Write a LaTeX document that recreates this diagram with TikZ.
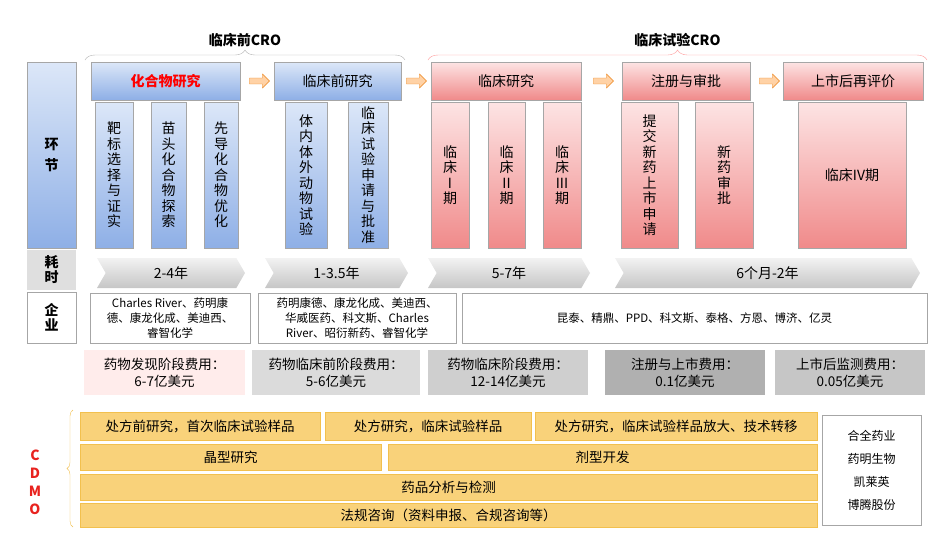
\documentclass[tikz,border=0pt]{standalone}
\usepackage{fontspec}
\setmainfont{Noto Sans CJK SC}
\usepackage{tikz}
\usetikzlibrary{shapes.symbols}
\usetikzlibrary{shapes.arrows}
\usetikzlibrary{decorations.pathreplacing}
\usetikzlibrary{positioning}

\definecolor{bluetop}{HTML}{DCE7F8}
\definecolor{bluebot}{HTML}{8EAFE6}
\definecolor{pinktop}{HTML}{FDE4E4}
\definecolor{pinkbot}{HTML}{F08A8A}
\definecolor{goldbox}{HTML}{F9D27A}
\definecolor{goldline}{HTML}{F2C04E}
\definecolor{cdmored}{HTML}{E8231F}

\begin{document}
\begin{tikzpicture}[x=1pt, y=-1pt,
    bluebox/.style={draw=gray!70, top color=bluetop, bottom color=bluebot,
        inner sep=0pt, font=\fontsize{14}{15.5}\selectfont, align=center},
    pinkbox/.style={draw=gray!70, top color=pinktop, bottom color=pinkbot,
        inner sep=0pt, font=\fontsize{14}{15.5}\selectfont, align=center},
    chev/.style={signal, signal to=east, signal from=west, signal pointer angle=120,
        top color=gray!10, bottom color=gray!45, inner sep=0pt, minimum height=30pt,
        font=\fontsize{14}{16}\selectfont},
    firmbox/.style={draw=gray!70, fill=white, inner sep=0pt, minimum height=50pt,
        align=center, font=\fontsize{11.5}{15}\selectfont},
    costbox/.style={inner sep=0pt, minimum height=45pt, align=center,
        font=\fontsize{13.5}{17}\selectfont},
    goldbar/.style={draw=goldline, fill=goldbox, inner sep=0pt,
        font=\fontsize{13.5}{15}\selectfont},
    step arrow/.style={single arrow, fill=orange!35, draw=orange!70!brown,
        minimum height=20pt, minimum width=14pt, single arrow head extend=3pt,
        inner sep=2pt}]

\useasboundingbox (0,0) rectangle (943,542);

% left column
\node[bluebox, minimum width=49pt, minimum height=186pt] (hj) at (51.5,155)
    {\textbf{环}\\[6pt]\textbf{节}};
\node[inner sep=0pt, minimum width=49pt, minimum height=40pt, fill=gray!25,
    font=\fontsize{14}{15}\selectfont\bfseries, align=center] (hs) at (51.5,270) {耗\\时};
\node[draw=gray!70, inner sep=0pt, minimum width=49pt, minimum height=51pt,
    font=\fontsize{14}{15}\selectfont\bfseries, align=center] (qy) at (51.5,317.5) {企\\业};

% stage heads
\node[bluebox, minimum width=149pt, minimum height=38pt, text=red,
    font=\fontsize{14}{16}\selectfont\bfseries] (cmpd) at (165.5,81) {化合物研究};
\node[bluebox, minimum width=127pt, minimum height=38pt] (pre) at (337.5,81) {临床前研究};
\node[pinkbox, minimum width=150pt, minimum height=38pt] (clin) at (506,81) {临床研究};
\node[pinkbox, minimum width=128pt, minimum height=38pt] (reg) at (686,81) {注册与审批};
\node[pinkbox, minimum width=140pt, minimum height=38pt] (post) at (853,81) {上市后再评价};

\node[step arrow] (a1) at (258,81) {};
\node[step arrow] (a2) at (415,81) {};
\node[step arrow] (a3) at (602,81) {};
\node[step arrow] (a4) at (768,81) {};

% sub steps
\foreach \cx/\w/\txt [count=\i] in {
    114/38/{靶\\标\\选\\择\\与\\证\\实},
    168.5/35/{苗\\头\\化\\合\\物\\探\\索},
    221/34/{先\\导\\化\\合\\物\\优\\化},
    306/42/{体\\内\\体\\外\\动\\物\\试\\验},
    368/40/{临\\床\\试\\验\\申\\请\\与\\批\\准}} {
    \node[bluebox, minimum width=\w pt, minimum height=146pt] (sub\i) at (\cx,175) {\txt};
}
\foreach \cx/\w/\txt [count=\i from 6] in {
    450/38/{临\\床\\I\\期},
    506.5/37/{临\\床\\II\\期},
    562/38/{临\\床\\III\\期},
    649.5/57/{提\\交\\新\\药\\上\\市\\申\\请},
    724/58/{新\\药\\审\\批},
    852/108/{临床IV期}} {
    \node[pinkbox, minimum width=\w pt, minimum height=146pt] (sub\i) at (\cx,175) {\txt};
}

% braces
\draw[gray!60, decorate, decoration={brace, amplitude=10pt}]
    (85,60) -- (405,60) node[midway, above=10pt, font=\fontsize{14}{16}\selectfont\bfseries,
    text=black] (precro) {临床前CRO};
\draw[red!40, decorate, decoration={brace, amplitude=10pt}]
    (428,60) -- (927,60) node[midway, above=10pt, font=\fontsize{14}{16}\selectfont\bfseries,
    text=black] (clincro) {临床试验CRO};

% time
\node[chev, minimum width=148pt] (t1) at (171,273) {2-4年};
\node[chev, minimum width=143pt] (t2) at (336.5,273) {1-3.5年};
\node[chev, minimum width=162pt] (t3) at (509,273) {5-7年};
\node[chev, minimum width=305pt] (t4) at (767.5,273) {6个月-2年};

% firms
\node[firmbox, minimum width=160pt] (f1) at (170,318)
    {Charles River、药明康\\德、康龙化成、美迪西、\\睿智化学};
\node[firmbox, minimum width=198pt] (f2) at (357,318)
    {药明康德、康龙化成、美迪西、\\华威医药、科文斯、Charles\\River、昭衍新药、睿智化学};
\node[firmbox, minimum width=465pt] (f3) at (694.5,318)
    {昆泰、精鼎、PPD、科文斯、泰格、方恩、博济、亿灵};

% costs
\node[costbox, fill=orange!15!red!8, minimum width=161pt] (c1) at (164.5,372.5)
    {药物发现阶段费用：\\6-7亿美元};
\node[costbox, fill=gray!28, minimum width=168pt] (c2) at (336,372.5)
    {药物临床前阶段费用：\\5-6亿美元};
\node[costbox, fill=gray!38, minimum width=160pt] (c3) at (508,372.5)
    {药物临床阶段费用：\\12-14亿美元};
\node[costbox, fill=gray!62, minimum width=160pt] (c4) at (685,372.5)
    {注册与上市费用：\\0.1亿美元};
\node[costbox, fill=gray!45, minimum width=150pt] (c5) at (850,372.5)
    {上市后监测费用：\\0.05亿美元};

% CDMO
\node[text=cdmored, font=\fontsize{14}{18}\selectfont\bfseries, align=center]
    (cdmo) at (35,482) {C\\D\\M\\O};
\draw[goldline, decorate, decoration={brace, amplitude=6pt}]
    (73,527) -- (73,410);
\node[goldbar, minimum width=240pt, minimum height=28pt] (g1) at (200,426)
    {处方前研究，首次临床试验样品};
\node[goldbar, minimum width=206pt, minimum height=28pt] (g2) at (428,426)
    {处方研究，临床试验样品};
\node[goldbar, minimum width=282pt, minimum height=28pt] (g3) at (676,426)
    {处方研究，临床试验样品放大、技术转移};
\node[goldbar, minimum width=301pt, minimum height=26pt] (g4) at (230.5,457) {晶型研究};
\node[goldbar, minimum width=429pt, minimum height=26pt] (g5) at (602.5,457) {剂型开发};
\node[goldbar, minimum width=737pt, minimum height=26pt] (g6) at (448.5,487) {药品分析与检测};
\node[goldbar, minimum width=737pt, minimum height=24pt] (g7) at (448.5,515)
    {法规咨询（资料申报、合规咨询等）};
\node[draw=gray!70, fill=white, minimum width=99pt, minimum height=110pt,
    align=center, font=\fontsize{12}{23}\selectfont] (cdmofirm) at (871.5,470)
    {合全药业\\药明生物\\凯莱英\\博腾股份};

\end{tikzpicture}
\end{document}
